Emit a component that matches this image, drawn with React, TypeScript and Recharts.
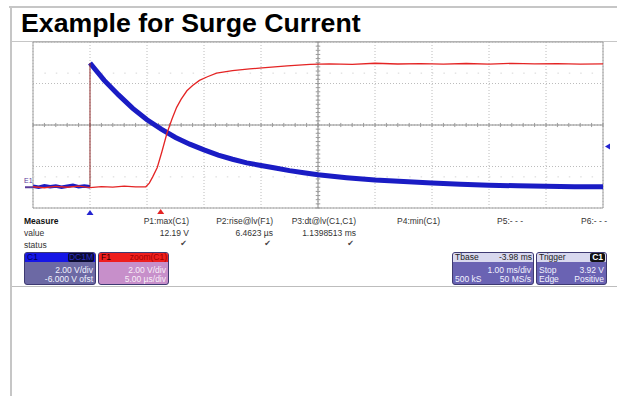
import {
  LineChart,
  Line,
  XAxis,
  YAxis,
  CartesianGrid,
  ReferenceLine,
  ReferenceArea,
  ReferenceDot,
} from 'recharts'

// ─── data ──────────────────────────────────────────────

// C1 : time in ms (1 ms/div), volts (2 V/div, -6 V offset)
const bluePreTrigger = [
  { t: -1.0, v: 0.1 },
  { t: -0.9, v: 0.0 },
  { t: -0.8, v: 0.15 },
  { t: -0.7, v: 0.05 },
  { t: -0.6, v: 0.12 },
  { t: -0.5, v: 0.0 },
  { t: -0.4, v: 0.1 },
  { t: -0.3, v: 0.18 },
  { t: -0.2, v: 0.05 },
  { t: -0.1, v: 0.12 },
  { t: 0.0, v: 0.05 },
]

const blueEdge = [
  { t: 0.0, v: 0.05 },
  { t: 0.0, v: 11.98 },
]

const blueDecay = [
  { t: 0.0, v: 11.98 },
  { t: 0.1, v: 11.3 },
  { t: 0.25, v: 10.3 },
  { t: 0.5, v: 8.9 },
  { t: 0.75, v: 7.6 },
  { t: 1.0, v: 6.5 },
  { t: 1.25, v: 5.6 },
  { t: 1.5, v: 4.8 },
  { t: 1.75, v: 4.15 },
  { t: 2.0, v: 3.6 },
  { t: 2.25, v: 3.1 },
  { t: 2.5, v: 2.7 },
  { t: 2.75, v: 2.35 },
  { t: 3.0, v: 2.1 },
  { t: 3.25, v: 1.85 },
  { t: 3.5, v: 1.6 },
  { t: 3.75, v: 1.4 },
  { t: 4.0, v: 1.2 },
  { t: 4.5, v: 0.92 },
  { t: 5.0, v: 0.7 },
  { t: 5.5, v: 0.55 },
  { t: 6.0, v: 0.42 },
  { t: 6.5, v: 0.3 },
  { t: 7.0, v: 0.2 },
  { t: 7.5, v: 0.14 },
  { t: 8.0, v: 0.1 },
  { t: 8.5, v: 0.06 },
  { t: 9.0, v: 0.04 },
]

// F1 = zoom(C1) : time in µs (5 µs/div)
const redZoom = [
  { t: 0, v: 0.05 },
  { t: 1, v: -0.05 },
  { t: 2, v: 0.08 },
  { t: 3, v: 0.0 },
  { t: 4, v: 0.1 },
  { t: 5, v: -0.03 },
  { t: 6, v: 0.06 },
  { t: 7, v: 0.02 },
  { t: 8, v: 0.1 },
  { t: 9, v: 0.04 },
  { t: 9.9, v: 0.05 },
  { t: 10.2, v: 0.4 },
  { t: 10.5, v: 1.0 },
  { t: 10.9, v: 1.9 },
  { t: 11.3, v: 3.4 },
  { t: 11.75, v: 5.2 },
  { t: 12.2, v: 6.6 },
  { t: 12.6, v: 7.7 },
  { t: 13.0, v: 8.5 },
  { t: 13.5, v: 9.3 },
  { t: 14.0, v: 9.8 },
  { t: 14.6, v: 10.3 },
  { t: 15.3, v: 10.65 },
  { t: 16.1, v: 11.0 },
  { t: 17.5, v: 11.25 },
  { t: 19.0, v: 11.4 },
  { t: 20.1, v: 11.5 },
  { t: 22.3, v: 11.7 },
  { t: 24.3, v: 11.85 },
  { t: 26, v: 11.9 },
  { t: 28, v: 11.85 },
  { t: 30, v: 11.95 },
  { t: 32, v: 11.88 },
  { t: 34, v: 11.92 },
  { t: 36, v: 11.86 },
  { t: 38, v: 11.93 },
  { t: 40, v: 11.87 },
  { t: 42, v: 11.94 },
  { t: 44, v: 11.89 },
  { t: 46, v: 11.92 },
  { t: 48, v: 11.87 },
  { t: 50, v: 11.9 },
]

const timeTicksMs = [-1, 0, 1, 2, 3, 4, 5, 6, 7, 8, 9]
const voltTicks = [-2, 0, 2, 4, 6, 8, 10, 12, 14]
const triggerLevel = 3.92
const zoomMarkerUs = 11.2

const measureLabels = ['P1:max(C1)', 'P2:rise@lv(F1)', 'P3:dt@lv(C1,C1)', 'P4:min(C1)', 'P5:- - -', 'P6:- - -']
const measureValues = ['12.19 V', '6.4623 µs', '1.1398513 ms', '', '', '']
const measureStatus = [true, true, true, false, false, false]

// minor division ticks on the centre cross (0.2 div)
const minorTimeTicks = Array.from({ length: 51 }, (_, i) => -1 + i * 0.2)
const minorVoltTicks = Array.from({ length: 41 }, (_, i) => -2 + i * 0.4)

const FONT = '"Liberation Sans", Arial, sans-serif'
const colRight = [189, 273, 356, 440, 523, 607]

// ─── little helpers ────────────────────

function Badge({
  left,
  width,
  headBg,
  headLeft,
  headLeftColor,
  headRight,
  headRightStyle,
  bodyBg,
  bodyColor,
  rows,
}: {
  left: number
  width: number
  headBg: string
  headLeft: string
  headLeftColor: string
  headRight: string
  headRightStyle: React.CSSProperties
  bodyBg: string
  bodyColor: string
  rows: [string, string][]
}) {
  return (
    <div
      style={{
        position: 'absolute',
        left,
        top: 252,
        width,
        height: 33,
        border: '1px solid #3e3a72',
        borderRadius: 3,
        overflow: 'hidden',
        background: bodyBg,
        fontSize: 8.5,
        lineHeight: '9px',
        boxSizing: 'border-box',
      }}
    >
      <div
        style={{
          height: 9,
          background: headBg,
          display: 'flex',
          justifyContent: 'space-between',
          alignItems: 'center',
          padding: '0 1px 0 2px',
        }}
      >
        <span style={{ color: headLeftColor }}>{headLeft}</span>
        <span style={headRightStyle}>{headRight}</span>
      </div>
      {rows.map(([l, r], i) => (
        <div
          key={i}
          style={{
            display: 'flex',
            justifyContent: 'space-between',
            padding: '0 2px',
            marginTop: i === 0 ? 4 : 0,
            color: bodyColor,
          }}
        >
          <span>{l}</span>
          <span>{r}</span>
        </div>
      ))}
    </div>
  )
}

export default function App() {
  return (
    <div
      style={{
        position: 'absolute',
        left: 0,
        top: 0,
        width: 617,
        height: 396,
        background: '#fff',
        fontFamily: FONT,
        overflow: 'hidden',
      }}
    >
      {/* page frame */}
      <div style={{ position: 'absolute', left: 9, top: 6, width: 608, height: 2, background: '#c6c6c6' }} />
      <div style={{ position: 'absolute', left: 10, top: 6, width: 2, height: 390, background: '#c6c6c6' }} />
      <div style={{ position: 'absolute', left: 11, top: 41, width: 606, height: 1, background: '#c6c6c6' }} />
      <div style={{ position: 'absolute', left: 12, top: 286, width: 605, height: 1, background: '#bdbdbd' }} />

      <div
        style={{
          position: 'absolute',
          left: 21,
          top: 8,
          fontSize: 26.7,
          lineHeight: '30px',
          fontWeight: 'bold',
          color: '#000',
          whiteSpace: 'nowrap',
        }}
      >
        Example for Surge Current
      </div>

      <div style={{ position: 'absolute', left: 0, top: 0 }}>
        <LineChart width={617} height={230} margin={{ top: 42, right: 14, bottom: 22, left: 33 }}>
          <XAxis xAxisId="ms" dataKey="t" type="number" domain={[-1, 9]} ticks={timeTicksMs} allowDataOverflow hide />
          <XAxis xAxisId="us" dataKey="t" type="number" domain={[0, 50]} allowDataOverflow hide />
          <YAxis type="number" domain={[-2, 14]} ticks={voltTicks} allowDataOverflow hide />
          <CartesianGrid xAxisId="ms" stroke="#bcbcbc" strokeDasharray="1 2" />
          <ReferenceLine xAxisId="ms" x={4} stroke="#8c8c8c" />
          <ReferenceLine xAxisId="ms" y={6} stroke="#8c8c8c" />
          <ReferenceLine xAxisId="ms" y={11} stroke="#d6d6d6" strokeDasharray="1.5 9.9" />
          <ReferenceLine xAxisId="ms" y={1} stroke="#d6d6d6" strokeDasharray="1.5 9.9" />
          {minorTimeTicks.map((t) => (
            <ReferenceLine
              key={'mt' + t}
              xAxisId="ms"
              segment={[
                { x: t, y: 5.8 },
                { x: t, y: 6.2 },
              ]}
              stroke="#9a9a9a"
            />
          ))}
          {minorVoltTicks.map((v) => (
            <ReferenceLine
              key={'mv' + v}
              xAxisId="ms"
              segment={[
                { x: 3.96, y: v },
                { x: 4.04, y: v },
              ]}
              stroke="#9a9a9a"
            />
          ))}
          <ReferenceArea xAxisId="ms" x1={-1} x2={9} y1={-2} y2={14} fill="none" stroke="#a0a0a0" />

          <Line xAxisId="ms" data={bluePreTrigger} dataKey="v" stroke="#1a1cc4" strokeWidth={3.5} dot={false} isAnimationActive={false} />
          <Line xAxisId="ms" data={blueDecay} dataKey="v" stroke="#1a1cc4" strokeWidth={5} dot={false} isAnimationActive={false} />
          <Line xAxisId="us" data={redZoom} dataKey="v" stroke="#e42424" strokeWidth={1.3} dot={false} isAnimationActive={false} />
          <Line xAxisId="ms" data={blueEdge} dataKey="v" stroke="#8e2a2a" strokeWidth={1} dot={false} isAnimationActive={false} />

          {/* ground marker of C1 */}
          <ReferenceDot
            xAxisId="ms"
            x={-1}
            y={0}
            ifOverflow="visible"
            shape={(p: { cx: number; cy: number }) => (
              <g>
                <line x1={p.cx - 8} y1={p.cy} x2={p.cx} y2={p.cy} stroke="#5b3a9a" strokeWidth={2} />
                <text x={p.cx - 9} y={p.cy - 4} fontSize={7} fill="#5b3a9a" fontFamily={FONT}>
                  E1
                </text>
              </g>
            )}
          />
          {/* trigger time marker */}
          <ReferenceDot
            xAxisId="ms"
            x={0}
            y={-2}
            ifOverflow="visible"
            shape={(p: { cx: number; cy: number }) => (
              <path d={`M${p.cx},${p.cy + 2} L${p.cx + 3.5},${p.cy + 7} L${p.cx - 3.5},${p.cy + 7} Z`} fill="#2424d0" />
            )}
          />
          {/* zoom position marker */}
          <ReferenceDot
            xAxisId="us"
            x={zoomMarkerUs}
            y={-2}
            ifOverflow="visible"
            shape={(p: { cx: number; cy: number }) => (
              <path d={`M${p.cx},${p.cy + 1} L${p.cx + 3.5},${p.cy + 6} L${p.cx - 3.5},${p.cy + 6} Z`} fill="#e42424" />
            )}
          />
          {/* trigger level marker */}
          <ReferenceDot
            xAxisId="ms"
            x={9}
            y={triggerLevel}
            ifOverflow="visible"
            shape={(p: { cx: number; cy: number }) => (
              <path d={`M${p.cx + 2},${p.cy} L${p.cx + 7},${p.cy - 3} L${p.cx + 7},${p.cy + 3} Z`} fill="#2424d0" />
            )}
          />
        </LineChart>
      </div>

      {/* measurement table */}
      <div style={{ position: 'absolute', left: 24, top: 216, fontSize: 8.5, fontWeight: 'bold', color: '#111' }}>Measure</div>
      <div style={{ position: 'absolute', left: 24, top: 228, fontSize: 8.5, color: '#333' }}>value</div>
      <div style={{ position: 'absolute', left: 24, top: 240, fontSize: 8.5, color: '#333' }}>status</div>
      {measureLabels.map((label, i) => (
        <div key={label + i}>
          <div
            style={{
              position: 'absolute',
              right: 617 - colRight[i],
              top: 216,
              fontSize: 8.5,
              color: '#333',
              whiteSpace: 'nowrap',
            }}
          >
            {label}
          </div>
          <div
            style={{
              position: 'absolute',
              right: 617 - colRight[i],
              top: 228,
              fontSize: 8.5,
              color: '#333',
              whiteSpace: 'nowrap',
            }}
          >
            {measureValues[i]}
          </div>
          {measureStatus[i] && (
            <div
              style={{
                position: 'absolute',
                right: 619 - colRight[i],
                top: 239,
                fontSize: 8,
                color: '#444',
                fontFamily: '"DejaVu Sans", sans-serif',
              }}
            >
              ✔
            </div>
          )}
        </div>
      ))}

      {/* channel / timebase badges */}
      <Badge
        left={24}
        width={72}
        headBg="#1616e6"
        headLeft="C1"
        headLeftColor="#00005a"
        headRight="DC1M"
        headRightStyle={{ background: '#0a0a30', color: '#2c2cc0', padding: '0 1px', borderRadius: 2 }}
        bodyBg="#6c69a4"
        bodyColor="#f2f2ff"
        rows={[
          ['', '2.00 V/div'],
          ['', '-6.000 V ofst'],
        ]}
      />
      <Badge
        left={98}
        width={71}
        headBg="#ee1e1e"
        headLeft="F1"
        headLeftColor="#2a0000"
        headRight="zoom(C1)"
        headRightStyle={{ color: '#a00000' }}
        bodyBg="#c78fca"
        bodyColor="#f8eef8"
        rows={[
          ['', '2.00 V/div'],
          ['', '5.00 µs/div'],
        ]}
      />
      <Badge
        left={452}
        width={82}
        headBg="#d8d8ee"
        headLeft="Tbase"
        headLeftColor="#222"
        headRight="-3.98 ms"
        headRightStyle={{ color: '#222' }}
        bodyBg="#6a63b3"
        bodyColor="#f2f2ff"
        rows={[
          ['', '1.00 ms/div'],
          ['500 kS', '50 MS/s'],
        ]}
      />
      <Badge
        left={536}
        width={71}
        headBg="#d8d8ee"
        headLeft="Trigger"
        headLeftColor="#222"
        headRight="C1"
        headRightStyle={{ background: '#111', color: '#fff', padding: '0 2px', borderRadius: 2, fontWeight: 'bold' }}
        bodyBg="#6a63b3"
        bodyColor="#f2f2ff"
        rows={[
          ['Stop', '3.92 V'],
          ['Edge', 'Positive'],
        ]}
      />
    </div>
  )
}
